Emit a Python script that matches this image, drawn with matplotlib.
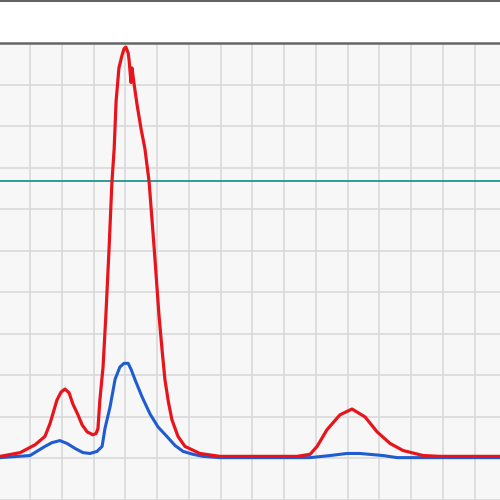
import numpy as np
import matplotlib
matplotlib.use("Agg")
import matplotlib.pyplot as plt
from matplotlib.lines import Line2D

# red trace (x in grid columns, y in grid rows)
red_x = [-0.94, -0.31, 0.16, 0.47, 0.63, 0.85, 0.98, 1.10, 1.23, 1.35, 1.51, 1.64,
         1.80, 1.98, 2.08, 2.14, 2.20, 2.30, 2.39, 2.49, 2.58, 2.65, 2.71, 2.80,
         2.90, 2.96, 3.02, 3.09, 3.12, 3.18, 3.21, 3.28, 3.37, 3.50, 3.62, 3.75,
         3.91, 4.06, 4.16, 4.25, 4.36, 4.47, 4.66, 4.88, 5.35, 5.98, 8.41, 8.82,
         9.04, 9.35, 9.76, 10.14, 10.55, 10.93, 11.34, 11.75, 12.38, 12.91, 14.80]
red_y = [0.05, 0.14, 0.33, 0.53, 0.84, 1.41, 1.60, 1.67, 1.58, 1.31, 1.05, 0.81,
         0.64, 0.57, 0.60, 0.72, 1.41, 2.20, 3.46, 5.06, 6.66, 7.45, 8.59, 9.40,
         9.71, 9.86, 9.90, 9.76, 9.59, 9.05, 9.40, 9.00, 8.52, 7.92, 7.45, 6.66,
         5.06, 3.46, 2.60, 1.89, 1.35, 0.93, 0.53, 0.29, 0.12, 0.05, 0.05, 0.10,
         0.29, 0.69, 1.05, 1.19, 1.00, 0.64, 0.36, 0.19, 0.07, 0.05, 0.05]

# blue trace
blue_x = [-0.94, 0.00, 0.47, 0.69, 0.94, 1.17, 1.42, 1.67, 1.89, 2.11, 2.27, 2.36,
          2.52, 2.68, 2.83, 2.96, 3.09, 3.18, 3.31, 3.53, 3.78, 4.03, 4.31, 4.57,
          4.82, 5.13, 5.45, 5.98, 8.82, 9.45, 9.98, 10.39, 11.12, 11.56, 14.80]
blue_y = [0.02, 0.07, 0.29, 0.38, 0.43, 0.36, 0.24, 0.14, 0.12, 0.17, 0.29, 0.72,
          1.24, 1.91, 2.20, 2.29, 2.29, 2.15, 1.89, 1.48, 1.07, 0.76, 0.53, 0.31,
          0.17, 0.10, 0.05, 0.02, 0.02, 0.07, 0.12, 0.12, 0.07, 0.02, 0.02]

# horizontal reference level
ref_level = 6.68

fig = plt.figure(figsize=(5, 5), dpi=100)
fig.patch.set_facecolor('white')
ax = fig.add_axes([0, 0, 1, 1 - 43 / 500])
ax.set_facecolor('#f7f7f7')

ax.set_xlim(-0.945, 14.8)
ax.set_ylim(-0.907, 10.0)
ax.set_xticks(np.arange(0, 15))
ax.set_yticks(np.arange(-1, 11))
ax.grid(True, color='#dadada', linewidth=1.2)
ax.set_axisbelow(True)
ax.tick_params(length=0, labelbottom=False, labelleft=False)

for side in ['left', 'right', 'bottom']:
    ax.spines[side].set_visible(False)
ax.spines['top'].set_color('#666666')
ax.spines['top'].set_linewidth(1.8)

ax.axhline(ref_level, color='#2e9c9a', linewidth=1.4)
ax.plot(blue_x, blue_y, color='#1f5bd1', linewidth=2.2,
        solid_joinstyle='round', solid_capstyle='round')
ax.plot(red_x, red_y, color='#e8141c', linewidth=2.3,
        solid_joinstyle='round', solid_capstyle='round')

fig.add_artist(Line2D([0, 1], [0.999, 0.999], transform=fig.transFigure,
                      color='#444444', linewidth=1.2))

plt.savefig('out.png', dpi=100)
